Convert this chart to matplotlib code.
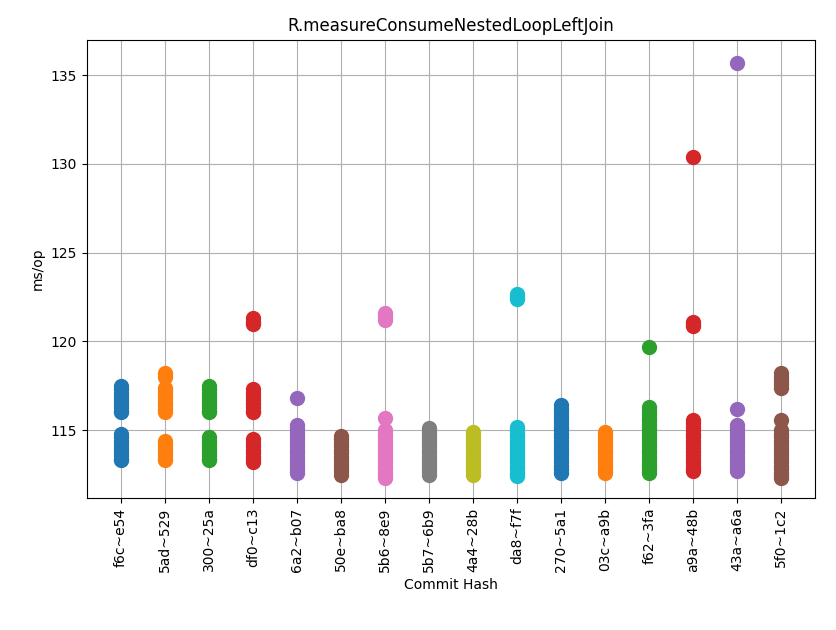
import matplotlib
matplotlib.use("Agg")
import matplotlib.pyplot as plt

commits = ['f6c~e54', '5ad~529', '300~25a', 'df0~c13', '6a2~b07', '50e~ba8',
           '5b6~8e9', '5b7~6b9', '4a4~28b', 'da8~f7f', '270~5a1', '03c~a9b',
           'f62~3fa', 'a9a~48b', '43a~a6a', '5f0~1c2']

# ms/op samples per commit
f6c_e54 = [117.5, 117.3, 117.1, 116.9, 116.7, 116.5, 116.3, 116.1, 116.0,
           114.8, 114.6, 114.4, 114.2, 114.0, 113.8, 113.6, 113.4, 113.3]
ad5_529 = [118.2, 118.0, 117.4, 117.2, 117.0, 116.8, 116.6, 116.4, 116.2, 116.0,
           114.4, 114.2, 114.0, 113.8, 113.6, 113.4, 113.3]
a300_25a = [117.5, 117.3, 117.1, 116.9, 116.7, 116.5, 116.3, 116.1, 116.0,
            114.6, 114.4, 114.2, 114.0, 113.8, 113.6, 113.4, 113.3]
df0_c13 = [121.3, 121.1, 121.0, 117.3, 117.1, 116.9, 116.7, 116.5, 116.3, 116.1, 116.0,
           114.5, 114.3, 114.1, 113.9, 113.7, 113.5, 113.3, 113.2]
a6a2_b07 = [116.8, 115.3, 115.1, 114.9, 114.7, 114.5, 114.3, 114.1, 113.9, 113.7,
            113.5, 113.3, 113.1, 112.9, 112.7, 112.6]
a50e_ba8 = [114.7, 114.5, 114.3, 114.1, 113.9, 113.7, 113.5, 113.3, 113.1, 112.9,
            112.7, 112.5]
a5b6_8e9 = [121.6, 121.4, 121.2, 115.7, 115.0, 114.8, 114.6, 114.4, 114.2, 114.0,
            113.8, 113.6, 113.4, 113.2, 113.0, 112.8, 112.6, 112.4, 112.3]
a5b7_6b9 = [115.1, 114.9, 114.7, 114.5, 114.3, 114.1, 113.9, 113.7, 113.5, 113.3,
            113.1, 112.9, 112.7, 112.5]
a4a4_28b = [114.9, 114.7, 114.5, 114.3, 114.1, 113.9, 113.7, 113.5, 113.3, 113.1,
            112.9, 112.7, 112.5]
da8_f7f = [122.7, 122.5, 122.4, 115.2, 115.0, 114.8, 114.6, 114.4, 114.2, 114.0,
           113.8, 113.6, 113.4, 113.2, 113.0, 112.8, 112.6, 112.4]
a270_5a1 = [116.4, 116.2, 116.0, 115.8, 115.6, 115.4, 115.2, 115.0, 114.8, 114.6,
            114.4, 114.2, 114.0, 113.8, 113.6, 113.4, 113.2, 113.0, 112.8, 112.6]
a03c_a9b = [114.9, 114.7, 114.5, 114.3, 114.1, 113.9, 113.7, 113.5, 113.3, 113.1,
            112.9, 112.7, 112.6]
f62_3fa = [119.7, 116.3, 116.1, 115.9, 115.7, 115.5, 115.3, 115.1, 114.9, 114.7,
           114.5, 114.3, 114.1, 113.9, 113.7, 113.5, 113.3, 113.1, 112.9, 112.7, 112.6]
a9a_48b = [130.4, 121.1, 121.0, 120.9, 115.6, 115.4, 115.2, 115.0, 114.8, 114.6,
           114.4, 114.2, 114.0, 113.8, 113.6, 113.4, 113.2, 113.0, 112.8, 112.7]
a43a_a6a = [135.7, 116.2, 115.3, 115.1, 114.9, 114.7, 114.5, 114.3, 114.1, 113.9,
            113.7, 113.5, 113.3, 113.1, 112.9, 112.7]
a5f0_1c2 = [118.2, 118.0, 117.8, 117.6, 117.4, 115.6, 115.0, 114.8, 114.6, 114.4,
            114.2, 114.0, 113.8, 113.6, 113.4, 113.2, 113.0, 112.8, 112.6, 112.4, 112.3]

samples = [f6c_e54, ad5_529, a300_25a, df0_c13, a6a2_b07, a50e_ba8, a5b6_8e9,
           a5b7_6b9, a4a4_28b, da8_f7f, a270_5a1, a03c_a9b, f62_3fa, a9a_48b,
           a43a_a6a, a5f0_1c2]

fig = plt.figure(figsize=(8.36, 6.3), dpi=100)
ax = fig.add_axes([0.104, 0.21, 0.871, 0.727])

for name, vals in zip(commits, samples):
    ax.scatter([name] * len(vals), vals, s=100, zorder=3)

ax.set_title('R.measureConsumeNestedLoopLeftJoin')
ax.set_xlabel('Commit Hash')
ax.set_ylabel('ms/op')
ax.set_ylim(111.2, 137.0)
ax.set_xlim(-0.77, 15.77)
ax.tick_params(axis='x', rotation=90)
ax.grid(True, zorder=0)
ax.set_axisbelow(True)

fig.savefig('out.png', dpi=100)
